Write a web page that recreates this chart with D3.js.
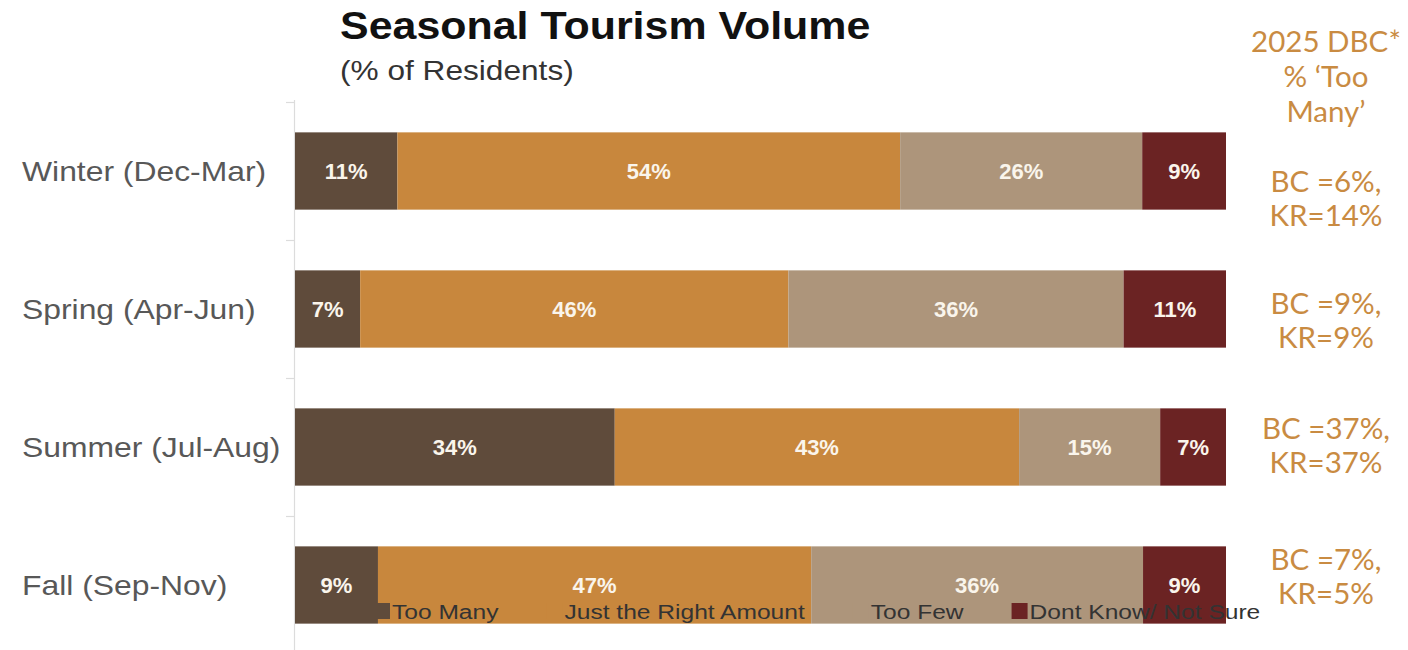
<!DOCTYPE html>
<html>
<head>
<meta charset="utf-8">
<script src="https://cdn.jsdelivr.net/npm/d3@7"></script>
<style>
  html, body { margin: 0; padding: 0; background: #ffffff; }
  svg { display: block; }
</style>
</head>
<body>
<svg id="chart" width="1408" height="650"></svg>
<script>
// ---------------- DATA ----------------
const categories = ["Winter (Dec-Mar)", "Spring (Apr-Jun)", "Summer (Jul-Aug)", "Fall (Sep-Nov)"];
const seriesNames = ["Too Many", "Just the Right Amount", "Too Few", "Dont Know/ Not Sure"];
const tooMany   = [11, 7, 34, 9];
const justRight = [54, 46, 43, 47];
const tooFew    = [26, 36, 15, 36];
const dontKnow  = [9, 11, 7, 9];
const titleText = "Seasonal Tourism Volume";
const subtitleText = "(% of Residents)";
const noteHeader = ["2025 DBC*", "% \u2018Too", "Many\u2019"];
const noteBC = ["BC =6%,", "BC =9%,", "BC =37%,", "BC =7%,"];
const noteKR = ["KR=14%", "KR=9%", "KR=37%", "KR=5%"];

// ---------------- LAYOUT / STYLE ----------------
const W = 1408, H = 650;
const SX = 1.13; // horizontal stretch of the original chart text
const colors = ["#5f4b3b", "#c8873d", "#ad957b", "#6b2323"];
const noteColor = "#c98b42";
const fontSans = "'Liberation Sans', Arial, sans-serif";

const svg = d3.select("#chart");

const seriesArrays = [tooMany, justRight, tooFew, dontKnow];
const rows = categories.map((c, i) => {
  const r = { category: c };
  seriesNames.forEach((s, k) => { r[s] = seriesArrays[k][i]; });
  return r;
});

const stack = d3.stack().keys(seriesNames).offset(d3.stackOffsetExpand);
const stacked = stack(rows);

const x = d3.scaleLinear().domain([0, 1]).range([295, 1226]);
const y = d3.scaleBand().domain(categories).range([102, 654]).paddingInner(0.44).paddingOuter(0.22);
const color = d3.scaleOrdinal().domain(seriesNames).range(colors);

// axis line and tick marks at band boundaries
const step = y.step();
const gap = (step - y.bandwidth()) / 2;
const boundaries = categories.map(c => y(c) - gap);
const axisG = svg.append("g");
axisG.append("line")
  .attr("x1", 294.5).attr("x2", 294.5).attr("y1", 100).attr("y2", H)
  .attr("stroke", "#dcdcdc").attr("stroke-width", 1.2);
axisG.selectAll("line.tick").data(boundaries).join("line")
  .attr("class", "tick")
  .attr("x1", 286).attr("x2", 294.5)
  .attr("y1", d => d + 0.5).attr("y2", d => d + 0.5)
  .attr("stroke", "#dcdcdc").attr("stroke-width", 1.2);

// category labels
svg.append("g").selectAll("text").data(categories).join("text")
  .attr("transform", d => `translate(22,${y(d) + y.bandwidth() / 2 + 10}) scale(${SX + 0.05},1)`)
  .attr("font-family", fontSans)
  .attr("font-size", 27)
  .attr("fill", "#585858")
  .text(d => d);

// bars
const barsG = svg.append("g");
const layers = barsG.selectAll("g.layer").data(stacked).join("g")
  .attr("class", "layer")
  .attr("fill", d => color(d.key));
layers.selectAll("rect").data(d => d.map(v => ({ v, key: d.key }))).join("rect")
  .attr("x", d => x(d.v[0]))
  .attr("y", d => y(d.v.data.category))
  .attr("width", d => x(d.v[1]) - x(d.v[0]))
  .attr("height", y.bandwidth());

// value labels
const labelsG = svg.append("g");
stacked.forEach(layer => {
  labelsG.selectAll(null).data(layer).join("text")
    .attr("x", d => (x(d[0]) + x(d[1])) / 2)
    .attr("y", d => y(d.data.category) + y.bandwidth() / 2 + 8)
    .attr("text-anchor", "middle")
    .attr("font-family", fontSans)
    .attr("font-weight", "bold")
    .attr("font-size", 22)
    .attr("fill", "#faf5ec")
    .text(d => d.data[layer.key] + "%");
});

// legend (overlapping the bottom bar, as in the original)
const legendG = svg.append("g");
const LSX = 1.17;
let lx = 374;
const legendY = 611;
seriesNames.forEach((name, k) => {
  legendG.append("rect")
    .attr("x", lx).attr("y", legendY - 8)
    .attr("width", 16).attr("height", 16)
    .attr("fill", colors[k]);
  const t = legendG.append("text")
    .attr("transform", `translate(${lx + 18},${legendY + 8}) scale(${LSX},1)`)
    .attr("font-family", fontSans)
    .attr("font-size", 21)
    .attr("fill", "#333333")
    .text(name);
  const w = t.node().getComputedTextLength() * LSX;
  lx = lx + 18 + w + 48;
});

// title and subtitle
svg.append("text")
  .attr("transform", `translate(340,39) scale(${SX},1)`)
  .attr("font-family", fontSans)
  .attr("font-weight", "bold")
  .attr("font-size", 38)
  .attr("fill", "#111111")
  .text(titleText);
svg.append("text")
  .attr("transform", `translate(340,80) scale(${SX},1)`)
  .attr("font-family", fontSans)
  .attr("font-size", 28)
  .attr("fill", "#333333")
  .text(subtitleText);

// right-hand annotations
const noteX = 1326;
const noteFont = "Lato, 'Open Sans', sans-serif";
const noteSize = 29.5;
svg.append("g").selectAll("text").data(noteHeader).join("text")
  .attr("x", noteX)
  .attr("y", (d, i) => 52 + i * 35)
  .attr("text-anchor", "middle")
  .attr("font-family", noteFont)
  .attr("font-size", noteSize)
  .attr("fill", noteColor)
  .text(d => d);

const noteCenters = [199, 321, 446, 577];
const notesG = svg.append("g");
categories.forEach((c, i) => {
  [noteBC[i], noteKR[i]].forEach((line, j) => {
    notesG.append("text")
      .attr("x", noteX)
      .attr("y", noteCenters[i] + (j - 0.5) * 34 + 10)
      .attr("text-anchor", "middle")
      .attr("font-family", noteFont)
      .attr("font-size", noteSize)
      .attr("fill", noteColor)
      .text(line);
  });
});
</script>
</body>
</html>
